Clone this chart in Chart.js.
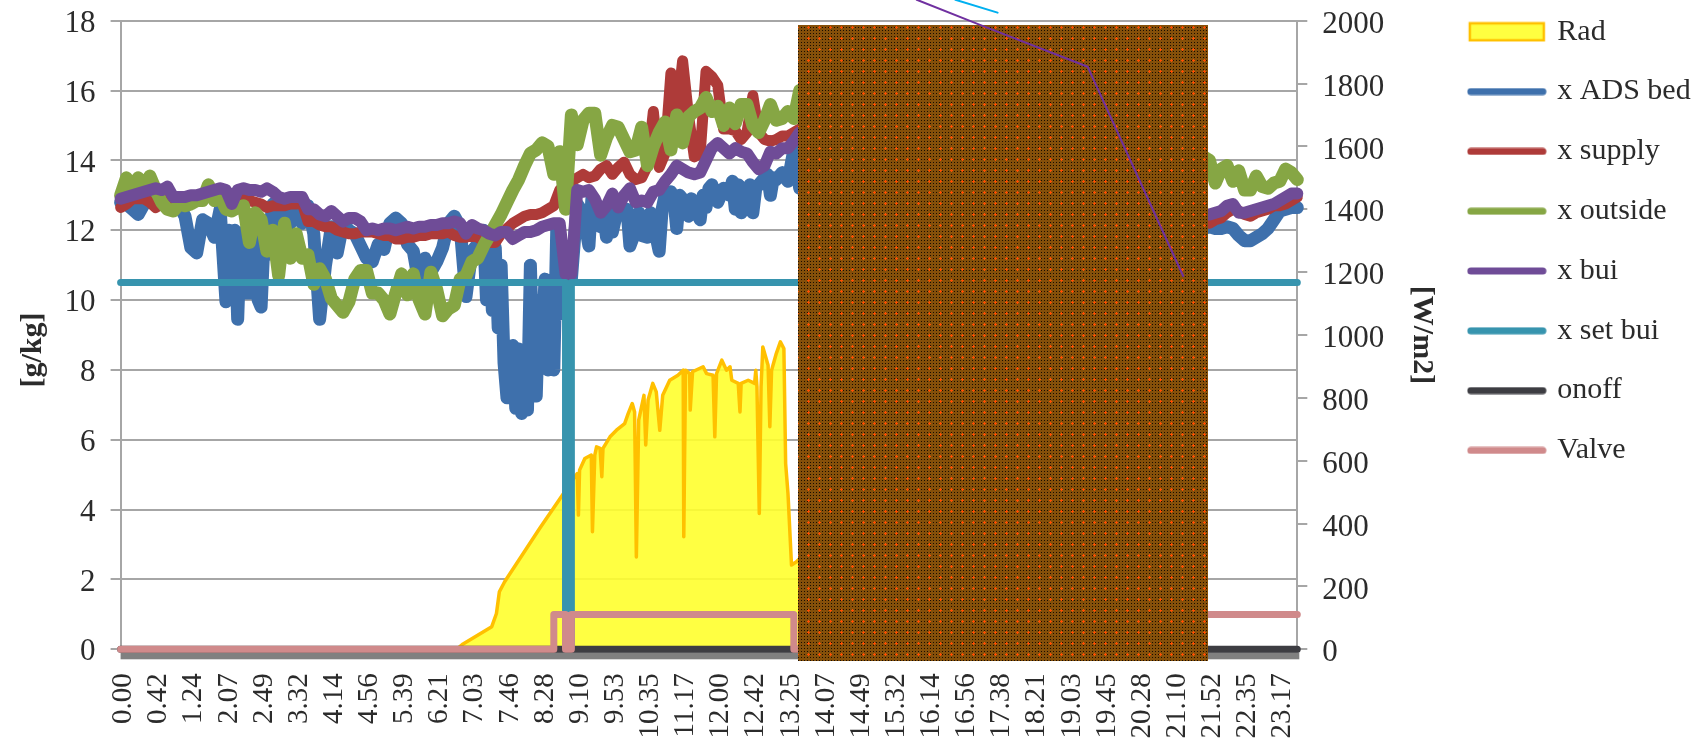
<!DOCTYPE html>
<html><head><meta charset="utf-8">
<style>html,body{margin:0;padding:0;background:#fff}canvas{display:block}</style>
<script src="https://cdn.jsdelivr.net/npm/chart.js@4"></script>
</head><body><canvas id="c" width="1708" height="741"></canvas>
<script>
const tickLabels=["0.00","0.42","1.24","2.07","2.49","3.32","4.14","4.56","5.39","6.21","7.03","7.46","8.28","9.10","9.53","10.35","11.17","12.00","12.42","13.25","14.07","14.49","15.32","16.14","16.56","17.38","18.21","19.03","19.45","20.28","21.10","21.52","22.35","23.17"];
const subPerLabel=6, lastSample=201, rightStart=185;

// Rad, read as position along the sample axis + W/m2
const radPos=[0,57.4,58.5,63.4,64.2,64.7,65.6,71.6,74.9,77.6,78.0,78.2,78.4,79.3,80.4,80.6,81.0,81.3,81.9,82.2,82.4,83.6,84.7,86.1,86.7,87.4,87.8,88.1,88.5,89.4,89.7,90.1,90.9,91.5,92.1,92.6,93.8,95.2,96.1,96.2,96.5,97.2,97.3,97.7,99.5,100.1,101.2,101.5,101.8,102.7,103.5,104.1,104.4,105.5,105.8,106.0,107.2,108.3,108.5,108.7,109.1,109.4,109.7,110.6,110.9,111.2,112.0,112.7,113.3,113.6,114.0,114.6,115.4,116.0];
const radVal=[0,0,17,72,114,183,215,385,475,549,559,427,570,607,618,374,618,644,639,549,639,676,697,718,750,782,755,294,729,808,650,793,846,819,697,808,856,872,888,358,888,877,761,883,899,877,872,676,877,920,888,899,856,846,755,846,856,846,888,835,432,835,962,904,708,888,941,978,957,591,496,268,278,289];
const radRight=[0,0,0,0,0,0,0,0,0,0,0,0,0,0,0,0,0];

const adsLeft=[12.8,12.75,12.6,12.45,12.75,12.85,12.85,12.8,12.8,12.8,
12.7,12.4,11.5,11.35,12.3,12.2,11.8,12.6,9.95,10.1,
9.45,11.95,10.2,11.5,9.8,11.3,12.75,12.0,12.65,12.2,
12.5,12.2,12.7,11.9,9.45,11.0,12.1,11.35,12.2,12.0,
11.9,11.55,11.2,11.1,11.6,11.45,12.2,12.35,12.2,11.6,
11.4,10.45,11.2,10.8,11.1,11.5,12.2,12.4,12.1,10.1,
11.4,11.6,12.0,11.8,11.5,11.0,7.2,8.7,8.6,8.5,
11.0,7.25,8.8,8.0,8.0,9.6,10.6,10.6,12.75,12.5,
11.55,12.4,12.1,11.8,11.95,12.7,12.5,11.55,12.0,11.85,
11.8,12.2,11.4,13.0,13.1,12.05,12.9,12.4,12.7,12.3,
12.65,13.3,12.8,13.2,13.0,12.6,12.5,13.1,12.5,13.3,
13.5,13.0,13.45,13.65,13.4,14.3,13.2];
const adsRight=[12.05,12.1,12.05,12.05,12.1,12.05,11.85,11.7,11.7,11.8,11.9,12.05,12.3,12.55,12.6,12.65,12.65];
// extra readings inside the dense blue blocks
const adsExtraPos=[18.5,19.5,20.5,21.5,22.5,23.5,24.5,62.5,63.5,64.5,65.5,66.5,67.5,68.5,69.5,70.5,71.5,72.5,73.5,74.5,75.5,80.5,82.5,83.5,86.5,88.5,90.5,92.5,94.5,95.5,97.5,99.5,100.5,104.5,105.5,106.5,107.5,108.5,110.5,111.5];
const adsExtraVal=[12,12,11.9,10.2,11.8,10,11.7,10.0,9.7,9.2,8.2,7.7,6.9,6.75,6.85,8.0,10.0,10.6,10.5,12.0,11.5,12.9,12.5,12.5,12.6,12.5,12.5,12.6,12.9,13,12.9,13,13.2,13.4,13.3,13.2,13.3,13.2,13.6,13.5];

const supplyLeft=[12.65,12.75,12.9,12.9,12.9,12.8,12.65,12.75,12.9,12.9,
12.85,12.85,12.9,12.9,12.95,13.0,13.0,13.05,13.0,12.7,
12.95,12.9,12.85,12.8,12.75,12.65,12.7,12.7,12.7,12.75,
12.75,12.8,12.25,12.25,12.15,12.1,12.1,12.0,11.95,11.9,
11.9,11.95,11.95,11.95,11.9,11.85,11.85,11.75,11.75,11.8,
11.8,11.85,11.85,11.9,11.9,11.9,11.95,11.85,11.8,11.8,
11.85,11.8,11.7,11.65,11.65,11.9,12.05,12.2,12.3,12.4,
12.45,12.45,12.5,12.6,12.7,13.15,13.3,13.4,13.5,13.6,
13.5,13.55,13.75,13.85,13.6,13.8,13.95,13.6,13.45,13.5,
13.85,15.4,13.8,14.2,16.5,15.3,16.85,15.3,14.1,14.2,
16.55,16.4,16.15,14.9,14.9,14.85,14.6,14.8,15.85,14.8,
14.6,14.55,14.6,14.7,14.7,14.8,14.9];
const supplyRight=[12.2,12.2,12.3,12.35,12.5,12.6,12.55,12.45,12.4,12.5,12.55,12.6,12.7,12.7,12.75,12.85,12.95];

const outsideLeft=[13.0,13.5,13.2,13.5,13.2,13.55,13.15,12.8,12.6,12.55,
12.75,12.7,12.75,12.85,12.85,13.3,12.85,12.95,12.6,12.55,
12.65,12.7,11.65,12.5,12.3,11.4,12.0,10.7,12.2,11.2,
11.9,11.2,11.3,10.45,10.9,10.6,10.05,9.85,9.65,9.95,
10.6,10.85,10.85,10.2,10.2,10.0,9.6,10.2,10.75,10.15,
10.75,10.0,9.6,10.8,10.3,9.55,9.75,9.85,10.6,10.7,
11.1,11.2,11.55,11.85,12.15,12.45,12.8,13.15,13.45,13.85,
14.2,14.3,14.5,14.4,13.6,14.25,12.6,15.3,14.45,15.15,
15.35,15.35,14.15,14.65,15.0,14.95,14.6,14.25,14.3,14.95,
13.85,14.4,14.8,15.1,14.3,15.3,14.5,15.25,15.4,15.5,
15.8,15.4,15.55,15.0,15.5,15.05,15.6,15.6,15.0,14.8,
15.15,15.6,15.15,15.2,15.4,15.2,16.0];
const outsideRight=[14.1,14.0,13.35,13.75,13.85,13.4,13.7,13.15,13.15,13.55,13.25,13.2,13.35,13.4,13.75,13.65,13.45];

const buiLeft=[12.9,12.95,13.0,13.05,13.1,13.15,13.2,13.15,13.25,12.95,
12.95,12.95,13.0,13.0,13.05,13.1,13.15,13.2,13.15,12.75,
13.15,13.2,13.15,13.15,13.1,13.2,13.1,12.95,12.9,12.95,
12.95,12.95,12.6,12.6,12.45,12.4,12.55,12.4,12.25,12.35,
12.35,12.25,12.0,12.05,12.0,12.05,12.05,12.0,12.05,12.1,
12.05,12.1,12.1,12.15,12.15,12.2,12.2,12.25,12.2,11.9,
12.15,12.05,12.0,11.9,11.85,11.95,11.95,11.75,11.85,11.95,
11.95,12.0,12.1,12.15,12.2,12.2,10.75,10.75,13.15,13.1,
13.15,12.9,12.5,12.7,13.05,12.65,13.0,13.2,12.8,12.85,
12.8,13.1,13.15,13.4,13.6,13.85,13.75,13.65,13.6,13.65,
14.0,14.35,14.5,14.35,14.2,14.35,14.25,14.2,13.95,13.75,
13.85,14.25,14.2,14.35,14.35,14.55,14.8];
const buiRight=[12.45,12.45,12.5,12.55,12.7,12.75,12.5,12.5,12.55,12.6,12.65,12.7,12.75,12.85,12.95,13.05,13.05];

const setLeft=[10.5,10.5,10.5,10.5,10.5,10.5,10.5,10.5,10.5,10.5,
10.5,10.5,10.5,10.5,10.5,10.5,10.5,10.5,10.5,10.5,
10.5,10.5,10.5,10.5,10.5,10.5,10.5,10.5,10.5,10.5,
10.5,10.5,10.5,10.5,10.5,10.5,10.5,10.5,10.5,10.5,
10.5,10.5,10.5,10.5,10.5,10.5,10.5,10.5,10.5,10.5,
10.5,10.5,10.5,10.5,10.5,10.5,10.5,10.5,10.5,10.5,
10.5,10.5,10.5,10.5,10.5,10.5,10.5,10.5,10.5,10.5,
10.5,10.5,10.5,10.5,10.5,10.5,0,10.5,10.5,10.5,
10.5,10.5,10.5,10.5,10.5,10.5,10.5,10.5,10.5,10.5,
10.5,10.5,10.5,10.5,10.5,10.5,10.5,10.5,10.5,10.5,
10.5,10.5,10.5,10.5,10.5,10.5,10.5,10.5,10.5,10.5,
10.5,10.5,10.5,10.5,10.5,10.5,10.5];
const setRight=[10.5,10.5,10.5,10.5,10.5,10.5,10.5,10.5,10.5,10.5,10.5,10.5,10.5,10.5,10.5,10.5,10.5];

const onoffLeft=[0,0,0,0,0,0,0,0,0,0,0,0,0,0,0,0,0,0,0,0,0,0,0,0,0,0,0,0,0,0,0,0,0,0,0,0,0,0,0,0,0,0,0,0,0,0,0,0,0,0,0,0,0,0,0,0,0,0,0,0,0,0,0,0,0,0,0,0,0,0,0,0,0,0,0,0,0,0,0,0,0,0,0,0,0,0,0,0,0,0,0,0,0,0,0,0,0,0,0,0,0,0,0,0,0,0,0,0,0,0,0,0,0,0,0,0,0];
const onoffRight=[0,0,0,0,0,0,0,0,0,0,0,0,0,0,0,0,0];

const valveLeft=[0,0,0,0,0,0,0,0,0,0,0,0,0,0,0,0,0,0,0,0,0,0,0,0,0,0,0,0,0,0,0,0,0,0,0,0,0,0,0,0,0,0,0,0,0,0,0,0,0,0,0,0,0,0,0,0,0,0,0,0,0,0,0,0,0,0,0,0,0,0,
0,0,0,0,1,1,0,1,1,1,
1,1,1,1,1,1,1,1,1,1,1,1,1,1,1,1,1,1,1,1,1,1,1,1,1,1,1,1,1,1,
1,1,1,1,1,0,0];
const valveRight=[1,1,1,1,1,1,1,1,1,1,1,1,1,1,1,1,1];

// the two thin stray lines drawn over the occluding block
const strayPurplePos=[136,146.8,165.2,181.5], strayPurpleVal=[18.6,17.88,16.68,10.69];
const strayCyanPos=[142.6,149.8], strayCyanVal=[18.6,18.23];

const zip=(xs,ys)=>xs.map((x,k)=>({x,y:ys[k]}));
const byX=(a,b)=>a.x-b.x;
const points=(left,right,exPos,exVal)=>left.map((y,i)=>({x:i,y}))
  .concat(exPos?zip(exPos,exVal):[]).sort(byX)
  .concat([{x:left.length+1,y:null}],right.map((y,j)=>({x:rightStart+j,y})));

const GRID="#a6a6a6", TXT="#2b2b2b", SERIF="'Liberation Serif','Times New Roman',serif";
const series=(label,data,color,order,width,extra)=>Object.assign({label,data,borderColor:color,backgroundColor:color,borderWidth:width,pointRadius:0,tension:0,fill:false,clip:false,borderCapStyle:"round",borderJoinStyle:"round",order,yAxisID:"y"},extra||{});

const datasets=[
 {label:"Rad",data:zip(radPos,radVal).concat([{x:117,y:null}],radRight.map((y,j)=>({x:rightStart+j,y}))),yAxisID:"y1",borderColor:"#FFC000",backgroundColor:"rgba(255,255,45,.9)",borderWidth:3.5,pointRadius:0,tension:0,fill:"origin",clip:false,order:8,borderJoinStyle:"round"},
 series("x ADS bed",points(adsLeft,adsRight,adsExtraPos,adsExtraVal),"#3E70AC",7,13),
 series("x supply",points(supplyLeft,supplyRight),"#AE3B39",6,11),
 series("x outside",points(outsideLeft,outsideRight),"#86A644",5,13),
 series("x bui",points(buiLeft,buiRight),"#6F4C97",4,12),
 series("x set bui",points(setLeft,setRight),"#3794AE",3,7,{stepped:"before"}),
 series("onoff",points(onoffLeft,onoffRight),"#3d3d42",2,7),
 series("Valve",points(valveLeft,valveRight),"#D08A8B",1,7,{stepped:"before"}),
 series("",zip(strayPurplePos,strayPurpleVal),"#7030A0",0,2),
 series("",zip(strayCyanPos,strayCyanVal),"#00B0F0",0,2)
];

function legendSwatch(color,isBox){
 const c=document.createElement("canvas");c.width=80;c.height=isBox?21:8;
 const g=c.getContext("2d");
 if(isBox){g.fillStyle="#FFFF40";g.strokeStyle="#FFC000";g.lineWidth=2.5;g.fillRect(3,2,74,17);g.strokeRect(3,2,74,17);}
 else{g.strokeStyle=color;g.lineWidth=7;g.lineCap="round";g.beginPath();g.moveTo(4,4);g.lineTo(76,4);g.stroke();}
 return c;
}

function makePattern(ctx){
 const c=document.createElement("canvas");c.width=33;c.height=33;
 const g=c.getContext("2d");
 g.fillStyle="#85500a";g.fillRect(0,0,33,33);
 g.fillStyle="#1a0d00";
 for(let a=0;a<33;a+=3)for(let b=0;b<33;b+=3)g.fillRect(a,b,1,1);
 g.fillStyle="#ff4d00";
 for(let a=5;a<33;a+=11)for(let b=5;b<33;b+=11){g.fillRect(a-1,b,3,1);g.fillRect(a,b-1,1,3);}
 return ctx.createPattern(c,"repeat");
}

const finishing={
 id:"finishing",
 beforeDraw(chart){chart.ctx.filter="blur(0.6px)";},
 afterLayout(chart){chart.legend.left=1441.5;chart.legend.top=-13;},
 beforeDatasetsDraw(chart){
  const {ctx,scales:{x,y}}=chart;const y0=y.getPixelForValue(0);
  ctx.save();ctx.fillStyle="#808080";ctx.fillRect(x.left,y0+3,x.right-x.left+2,7);ctx.restore();
 },
 afterDatasetDraw(chart,args){
  if(chart.data.datasets[args.index].label!=="Valve")return;
  const ctx=chart.ctx;ctx.filter="none";
  ctx.save();ctx.fillStyle=makePattern(ctx);ctx.fillRect(798,25,410,636);ctx.restore();
 }
};

new Chart(document.getElementById("c"),{
 type:"line",
 data:{datasets},
 plugins:[finishing],
 options:{
  responsive:false,animation:false,devicePixelRatio:1,
  events:[],
  layout:{autoPadding:false,padding:{top:20.7,left:0,right:0,bottom:0}},
  plugins:{
   tooltip:{enabled:false},
   legend:{display:true,position:"right",align:"start",maxWidth:240,
    labels:{usePointStyle:true,pointStyleWidth:71,padding:29.8,color:TXT,
     font:{family:SERIF,size:30,lineHeight:1},
     generateLabels:chart=>chart.data.datasets.filter(d=>d.label).map(d=>({
       text:d.label,fontColor:TXT,hidden:false,lineWidth:0,strokeStyle:"transparent",fillStyle:"transparent",
       pointStyle:legendSwatch(d.borderColor,d.label==="Rad")}))
    }}
  },
  scales:{
   x:{type:"linear",min:0,max:lastSample,
    grid:{display:false},border:{display:false},
    afterBuildTicks(s){s.ticks=tickLabels.map((_,k)=>({value:k*subPerLabel}));},
    ticks:{autoSkip:false,includeBounds:false,minRotation:90,maxRotation:90,padding:16,labelOffset:3,color:TXT,font:{family:SERIF,size:29},
     callback:v=>tickLabels[Math.round(v/subPerLabel)]},
    afterFit(s){s.height=91.7;s.paddingLeft=0;s.paddingRight=0;}
   },
   y:{position:"left",min:0,max:18,
    grid:{color:GRID,lineWidth:2,tickLength:10,tickColor:GRID},border:{color:GRID,width:2},
    ticks:{stepSize:2,padding:15,labelOffset:3,color:TXT,font:{family:SERIF,size:31}},
    title:{display:true,text:"[g/kg]\u00A0\u00A0\u00A0\u00A0",color:TXT,font:{family:SERIF,size:30,weight:"bold"},padding:{top:15,bottom:0}},
    afterFit(s){s.width=120.6;s.paddingTop=0;s.paddingBottom=0;}
   },
   y1:{position:"right",min:0,max:2000,
    grid:{drawOnChartArea:false,color:GRID,lineWidth:2,tickLength:10,tickColor:GRID},border:{color:GRID,width:2},
    ticks:{stepSize:200,padding:15,labelOffset:4,color:TXT,font:{family:SERIF,size:31},callback:v=>String(v)},
    title:{display:true,text:"[W/m2]",color:TXT,font:{family:SERIF,size:30,weight:"bold"},padding:{top:28,bottom:0}},
    afterFit(s){s.width=170.7;s.paddingTop=0;s.paddingBottom=0;}
   }
  }
 }
});
</script></body></html>
